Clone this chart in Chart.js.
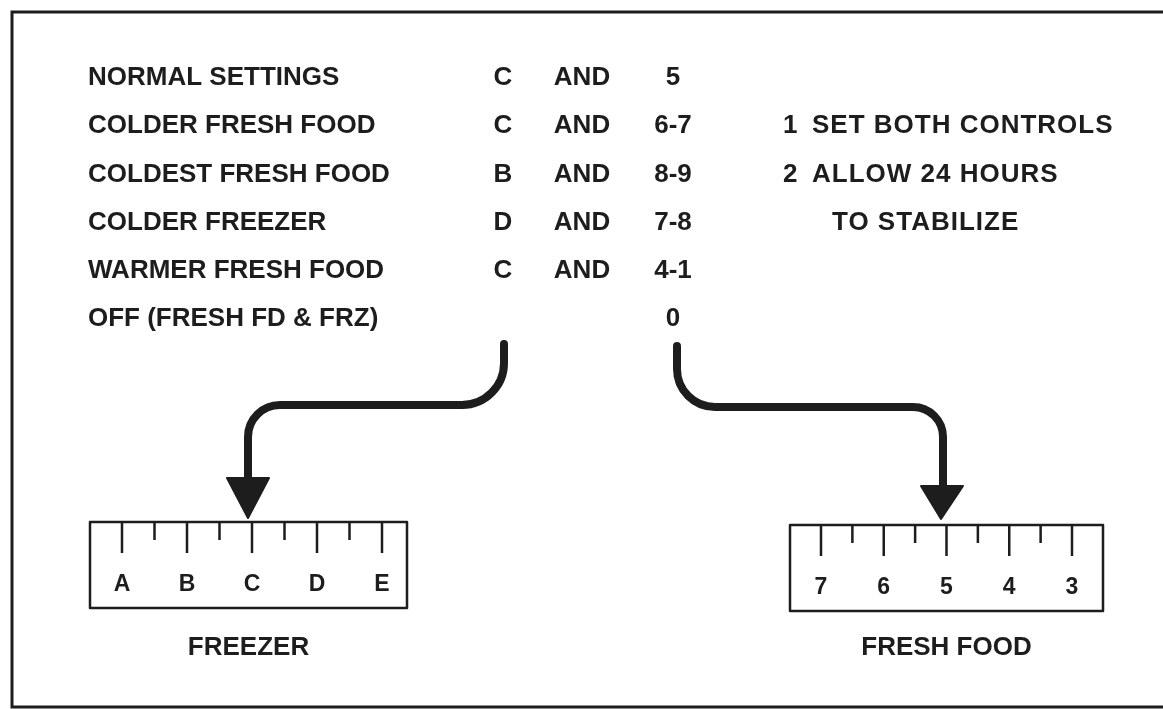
<!DOCTYPE html>
<html lang="en">
<head>
  <meta charset="UTF-8" />
  <title>Refrigerator control settings</title>
  <script src="https://cdn.jsdelivr.net/npm/chart.js"></script>
  <style>
    html, body { margin: 0; padding: 0; background: #fff; }
    #wrap { width: 1163px; height: 709px; position: relative; }
  </style>
</head>
<body>
  <div id="wrap"><canvas id="chart"></canvas></div>

  <script>
    // table rows
    const settings = ['NORMAL SETTINGS', 'COLDER FRESH FOOD', 'COLDEST FRESH FOOD',
                      'COLDER FREEZER', 'WARMER FRESH FOOD', 'OFF (FRESH FD & FRZ)'];
    const freezerSetting = ['C', 'C', 'B', 'D', 'C', ''];
    const joinWord = ['AND', 'AND', 'AND', 'AND', 'AND', ''];
    const freshFoodSetting = ['5', '6-7', '8-9', '7-8', '4-1', '0'];

    // side notes
    const noteNumbers = ['1', '2', ''];
    const noteTexts = ['SET BOTH CONTROLS', 'ALLOW 24 HOURS', 'TO STABILIZE'];

    // dial scales
    const freezerDial = ['A', 'B', 'C', 'D', 'E'];
    const freshFoodDial = ['7', '6', '5', '4', '3'];
    const dialCaptions = ['FREEZER', 'FRESH FOOD'];

    const INK = '#1d1d1d';
    const FONT = '"Liberation Sans", Arial, sans-serif';

    // layout (page units, mapped through the chart scales)
    const rowTop = 78, rowGap = 48.2;
    const colLabel = 88, colFreezer = 503, colAnd = 582, colFresh = 673;
    const noteNumX = 783, noteTextX = 812, noteIndentX = 832;

    const dials = [
      { labels: freezerDial, caption: dialCaptions[0], left: 90, right: 407, top: 522, bottom: 608,
        first: 122, step: 65, labelY: 585, captionY: 648 },
      { labels: freshFoodDial, caption: dialCaptions[1], left: 790, right: 1103, top: 525, bottom: 611,
        first: 821, step: 62.75, labelY: 588, captionY: 648 }
    ];

    const arrows = [
      { pts: [[504, 344], [504, 405], [248, 405], [248, 482]], radii: [42, 32],
        head: [[227, 478], [269, 478], [248, 518]] },
      { pts: [[677, 346], [677, 407], [943, 407], [943, 490]], radii: [38, 30],
        head: [[921, 486], [963, 486], [941, 519]] }
    ];

    const diagram = {
      id: 'diagram',
      afterDraw(chart) {
        const ctx = chart.ctx;
        const X = v => chart.scales.x.getPixelForValue(v);
        const Y = v => chart.scales.y.getPixelForValue(v);
        ctx.save();

        // frame (open on the right)
        ctx.strokeStyle = INK;
        ctx.lineWidth = 3;
        ctx.beginPath();
        ctx.moveTo(X(1163), Y(12));
        ctx.lineTo(X(12), Y(12));
        ctx.lineTo(X(12), Y(707));
        ctx.lineTo(X(1163), Y(707));
        ctx.stroke();

        // settings table
        ctx.fillStyle = INK;
        ctx.font = 'bold 26px ' + FONT;
        ctx.textBaseline = 'middle';
        settings.forEach((s, i) => {
          const y = Y(rowTop + i * rowGap);
          ctx.textAlign = 'left';
          ctx.fillText(s, X(colLabel), y);
          ctx.textAlign = 'center';
          ctx.fillText(freezerSetting[i], X(colFreezer), y);
          ctx.fillText(joinWord[i], X(colAnd), y);
          ctx.fillText(freshFoodSetting[i], X(colFresh), y);
        });

        // notes
        ctx.textAlign = 'left';
        ctx.letterSpacing = '1px';
        noteTexts.forEach((t, i) => {
          const y = Y(rowTop + (i + 1) * rowGap);
          if (noteNumbers[i]) {
            ctx.fillText(noteNumbers[i], X(noteNumX), y);
            ctx.fillText(t, X(noteTextX), y);
          } else {
            ctx.fillText(t, X(noteIndentX), y);
          }
        });
        ctx.letterSpacing = '0px';

        // arrows
        arrows.forEach(a => {
          const p = a.pts;
          ctx.lineWidth = 8;
          ctx.lineCap = 'round';
          ctx.lineJoin = 'round';
          ctx.beginPath();
          ctx.moveTo(X(p[0][0]), Y(p[0][1]));
          ctx.arcTo(X(p[1][0]), Y(p[1][1]), X(p[2][0]), Y(p[2][1]), a.radii[0]);
          ctx.arcTo(X(p[2][0]), Y(p[2][1]), X(p[3][0]), Y(p[3][1]), a.radii[1]);
          ctx.lineTo(X(p[3][0]), Y(p[3][1]));
          ctx.stroke();
          ctx.beginPath();
          ctx.moveTo(X(a.head[0][0]), Y(a.head[0][1]));
          ctx.lineTo(X(a.head[1][0]), Y(a.head[1][1]));
          ctx.lineTo(X(a.head[2][0]), Y(a.head[2][1]));
          ctx.closePath();
          ctx.lineWidth = 2;
          ctx.fill();
          ctx.stroke();
        });

        // dials
        dials.forEach(d => {
          ctx.lineWidth = 2.5;
          ctx.lineCap = 'butt';
          ctx.strokeRect(X(d.left), Y(d.top), X(d.right) - X(d.left), Y(d.bottom) - Y(d.top));
          d.labels.forEach((lab, i) => {
            const x = d.first + i * d.step;
            ctx.beginPath();
            ctx.moveTo(X(x), Y(d.top));
            ctx.lineTo(X(x), Y(d.top + 31));
            if (i < d.labels.length - 1) {
              const xs = x + d.step / 2;
              ctx.moveTo(X(xs), Y(d.top));
              ctx.lineTo(X(xs), Y(d.top + 18));
            }
            ctx.stroke();
            ctx.font = 'bold 23px ' + FONT;
            ctx.textAlign = 'center';
            ctx.fillText(lab, X(x), Y(d.labelY));
          });
          ctx.font = 'bold 26px ' + FONT;
          ctx.fillText(d.caption, X((d.left + d.right) / 2), Y(d.captionY));
        });

        ctx.restore();
      }
    };

    new Chart(document.getElementById('chart'), {
      type: 'scatter',
      data: { datasets: [{ data: [] }] },
      options: {
        responsive: true,
        maintainAspectRatio: false,
        animation: false,
        layout: { padding: 0 },
        plugins: { legend: { display: false }, tooltip: { enabled: false } },
        scales: {
          x: { type: 'linear', min: 0, max: 1163, display: false },
          y: { type: 'linear', min: 0, max: 709, reverse: true, display: false }
        }
      },
      plugins: [diagram]
    });
  </script>
</body>
</html>
